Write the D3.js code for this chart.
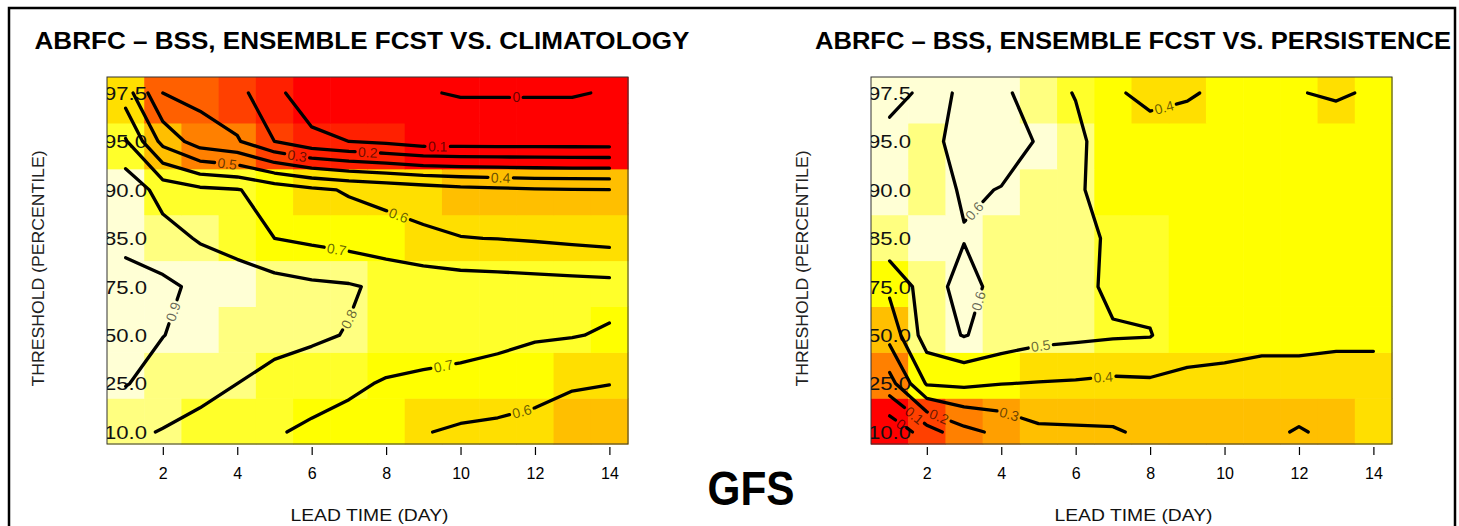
<!DOCTYPE html>
<html>
<head>
<meta charset="utf-8">
<script src="https://cdn.jsdelivr.net/npm/d3@7"></script>
<style>
  body { margin: 0; background: #fff; }
  svg { display: block; }
</style>
</head>
<body>
<svg id="chart" width="1459" height="526"></svg>
<script>
// lead days and threshold categories (bottom -> top)
const days = [1, 2, 3, 4, 5, 6, 7, 8, 9, 10, 11, 12, 13, 14];
const thresholds = ["10.0", "25.0", "50.0", "75.0", "85.0", "90.0", "95.0", "97.5"];
const xTicks = [2, 4, 6, 8, 10, 12, 14];

// R heat.colors(12)
const heatColors = ["#FF0000", "#FF2000", "#FF4000", "#FF6000", "#FF8000", "#FF9F00",
                    "#FFBF00", "#FFDF00", "#FFFF00", "#FFFF2A", "#FFFF80", "#FFFFD5"];

// BSS vs climatology, one row per threshold (10.0 first), one value per lead day
const climatology = [
  [0.82, 0.795, 0.77, 0.75, 0.71, 0.68, 0.66, 0.635, 0.605, 0.585, 0.575, 0.56, 0.545, 0.53],
  [0.905, 0.86, 0.83, 0.80, 0.77, 0.75, 0.72, 0.69, 0.68, 0.67, 0.66, 0.64, 0.61, 0.602],
  [0.94, 0.902, 0.87, 0.85, 0.83, 0.815, 0.795, 0.77, 0.75, 0.74, 0.725, 0.71, 0.705, 0.69],
  [0.93, 0.92, 0.88, 0.865, 0.84, 0.82, 0.81, 0.78, 0.76, 0.75, 0.745, 0.74, 0.735, 0.73],
  [0.88, 0.84, 0.79, 0.75, 0.70, 0.68, 0.66, 0.64, 0.62, 0.603, 0.598, 0.59, 0.58, 0.57],
  [0.87, 0.76, 0.72, 0.705, 0.66, 0.62, 0.59, 0.57, 0.55, 0.53, 0.52, 0.51, 0.505, 0.502],
  [0.71, 0.47, 0.35, 0.31, 0.20, 0.13, 0.10, 0.08, 0.05, 0.05, 0.05, 0.05, 0.05, 0.05],
  [0.55, 0.30, 0.27, 0.23, 0.13, 0.03, 0.02, 0.01, 0.005, -0.005, -0.005, -0.005, -0.005, 0.005]
];

// BSS vs persistence
const persistence = [
  [-0.08, 0.05, 0.17, 0.225, 0.28, 0.285, 0.29, 0.32, 0.33, 0.335, 0.33, 0.29, 0.33, 0.34],
  [0.16, 0.41, 0.42, 0.402, 0.395, 0.39, 0.38, 0.385, 0.385, 0.385, 0.38, 0.38, 0.38, 0.38],
  [0.335, 0.55, 0.605, 0.56, 0.53, 0.52, 0.51, 0.505, 0.43, 0.42, 0.415, 0.415, 0.41, 0.41],
  [0.42, 0.55, 0.64, 0.56, 0.55, 0.53, 0.48, 0.47, 0.45, 0.45, 0.45, 0.45, 0.45, 0.45],
  [0.57, 0.58, 0.595, 0.57, 0.56, 0.54, 0.48, 0.47, 0.45, 0.45, 0.45, 0.45, 0.45, 0.45],
  [0.58, 0.56, 0.61, 0.5975, 0.56, 0.52, 0.44, 0.45, 0.45, 0.45, 0.45, 0.45, 0.45, 0.45],
  [0.58, 0.57, 0.637, 0.63, 0.595, 0.53, 0.43, 0.45, 0.45, 0.45, 0.45, 0.45, 0.45, 0.45],
  [0.62, 0.587, 0.606, 0.62, 0.553, 0.494, 0.416, 0.37, 0.39, 0.42, 0.45, 0.403, 0.39, 0.41]
];

const panels = [
  { x0: 107, title: "ABRFC \u2013 BSS, ENSEMBLE FCST VS. CLIMATOLOGY", titleW: 655, titleX: 362, grid: climatology },
  { x0: 871, title: "ABRFC \u2013 BSS, ENSEMBLE FCST VS. PERSISTENCE", titleW: 636, titleX: 1133, grid: persistence }
];

const width = 1459, height = 526;
const plotW = 521, plotH = 367, plotY = 77;
const sans = "'Liberation Sans', Arial, Helvetica, sans-serif";
const narrow = "'Liberation Sans Narrow', 'Arial Narrow', 'Liberation Sans', Arial, sans-serif";
const labelSize = 14;

const svg = d3.select("#chart");
svg.append("rect").attr("width", width).attr("height", height).attr("fill", "#fff");
svg.append("rect")
  .attr("x", 9).attr("y", 8).attr("width", 1446).attr("height", 540)
  .attr("fill", "none").attr("stroke", "#000").attr("stroke-width", 2.5);

const x = d3.scaleLinear().domain([0.5, 14.5]).range([0, plotW]);
const yBand = d3.scaleBand().domain(thresholds.slice().reverse()).range([0, plotH]);
// contour grid rows / tick labels sit on this scale (row index)
const yGrid = d3.scaleLinear().domain([0, thresholds.length - 1]).range([355, 16]);
const xIdx = d3.scaleLinear().domain([0, days.length - 1]).range([x(days[0]), x(days[days.length - 1])]);

// marching squares -> polylines in grid index coords
function isoLines(grid, level) {
  const ny = grid.length, nx = grid[0].length;
  const pts = new Map();
  const segs = [];
  const hEdge = (i, j) => {
    const a = grid[j][i], b = grid[j][i + 1], k = "h" + i + "," + j;
    pts.set(k, [i + (level - a) / (b - a), j]);
    return k;
  };
  const vEdge = (i, j) => {
    const a = grid[j][i], b = grid[j + 1][i], k = "v" + i + "," + j;
    pts.set(k, [i, j + (level - a) / (b - a)]);
    return k;
  };
  for (let j = 0; j < ny - 1; j++) {
    for (let i = 0; i < nx - 1; i++) {
      const a = grid[j][i] >= level, b = grid[j][i + 1] >= level;
      const c = grid[j + 1][i + 1] >= level, d = grid[j + 1][i] >= level;
      const e = [];
      if (a !== b) e.push(hEdge(i, j));       // bottom
      if (b !== c) e.push(vEdge(i + 1, j));   // right
      if (d !== c) e.push(hEdge(i, j + 1));   // top
      if (a !== d) e.push(vEdge(i, j));       // left
      if (e.length === 2) segs.push(e);
      else if (e.length === 4) {
        const centre = (grid[j][i] + grid[j][i + 1] + grid[j + 1][i + 1] + grid[j + 1][i]) / 4 >= level;
        if (centre === a) { segs.push([e[0], e[1]]); segs.push([e[2], e[3]]); }
        else { segs.push([e[0], e[3]]); segs.push([e[1], e[2]]); }
      }
    }
  }
  const adj = new Map();
  segs.forEach((s, n) => s.forEach(k => {
    if (!adj.has(k)) adj.set(k, []);
    adj.get(k).push(n);
  }));
  const used = segs.map(() => false);
  const walk = start => {
    const keys = [start];
    let cur = start;
    while (true) {
      const n = adj.get(cur).find(m => !used[m]);
      if (n === undefined) break;
      used[n] = true;
      cur = segs[n][0] === cur ? segs[n][1] : segs[n][0];
      keys.push(cur);
    }
    return keys;
  };
  const lines = [];
  for (const [k, list] of adj) if (list.length === 1 && !used[list[0]]) lines.push(walk(k));
  segs.forEach((s, n) => { if (!used[n]) lines.push(walk(s[0])); });
  return lines.map(ks => ks.map(k => pts.get(k)));
}

function measure(str) {
  const t = svg.append("text").attr("font-family", sans).attr("font-size", labelSize).text(str);
  const w = t.node().getComputedTextLength();
  t.remove();
  return w;
}

function arc(pts) {
  const cum = [0];
  for (let i = 1; i < pts.length; i++)
    cum.push(cum[i - 1] + Math.hypot(pts[i][0] - pts[i - 1][0], pts[i][1] - pts[i - 1][1]));
  const L = cum[cum.length - 1];
  const at = s => {
    s = Math.max(0, Math.min(L, s));
    let i = d3.bisectRight(cum, s) - 1;
    if (i >= pts.length - 1) i = pts.length - 2;
    if (i < 0) i = 0;
    const t = (s - cum[i]) / ((cum[i + 1] - cum[i]) || 1);
    return [pts[i][0] + t * (pts[i + 1][0] - pts[i][0]), pts[i][1] + t * (pts[i + 1][1] - pts[i][1])];
  };
  const slice = (a, b) => {
    const out = [at(a)];
    for (let i = 0; i < pts.length; i++) if (cum[i] > a && cum[i] < b) out.push(pts[i]);
    out.push(at(b));
    return out;
  };
  return { L, at, slice };
}

// choose label spots: flat stretch, clear of other lines and of earlier labels
function placeLabels(lines) {
  const samples = lines.map(ln => {
    const a = arc(ln.px), out = [];
    for (let s = 0; s <= a.L; s += 2) out.push(a.at(s));
    return out;
  });
  const placed = [];
  lines.forEach((ln, li) => {
    const a = arc(ln.px);
    const half = ln.w / 2 + 3;
    ln.pieces = [ln.px];
    if (a.L < ln.w * 3.2) return;
    let best = null, bestScore = -Infinity;
    for (let s = half + 2; s <= a.L - half - 2; s += 1) {
      const p0 = a.at(s - half - 2), p1 = a.at(s + half + 2);
      const flat = Math.hypot(p1[0] - p0[0], p1[1] - p0[1]) / (2 * half + 4);
      const c = a.at(s);
      const ang = Math.atan2(p1[1] - p0[1], p1[0] - p0[0]);
      const cs = Math.cos(ang), sn = Math.sin(ang);
      let hits = 0;
      samples.forEach((smp, k) => {
        if (k === li) return;
        smp.forEach(q => {
          const dx = q[0] - c[0], dy = q[1] - c[1];
          const u = dx * cs + dy * sn, v = -dx * sn + dy * cs;
          if (Math.abs(u) < half && Math.abs(v) < 6) hits++;
        });
      });
      let near = 0;
      placed.forEach(pl => { if (Math.hypot(pl[0] - c[0], pl[1] - c[1]) < 70) near++; });
      const score = Math.round(flat * 100) / 100 - hits * 0.5 - near * 0.3 - 0.05 * Math.abs(s / a.L - 0.5);
      if (score > bestScore) { bestScore = score; best = { s, p0, p1, c }; }
    }
    if (!best) return;
    let angle = Math.atan2(best.p1[1] - best.p0[1], best.p1[0] - best.p0[0]) * 180 / Math.PI;
    if (angle > 90) angle -= 180;
    if (angle < -90) angle += 180;
    ln.pieces = [a.slice(0, best.s - half), a.slice(best.s + half, a.L)];
    ln.centre = best.c;
    ln.angle = angle;
    placed.push(best.c);
  });
}

const line = d3.line();

panels.forEach((p, pi) => {
  const g = svg.append("g").attr("transform", `translate(${p.x0},${plotY})`);
  const clipId = "plotclip" + pi;
  g.append("clipPath").attr("id", clipId)
    .append("rect").attr("width", plotW).attr("height", plotH);

  const values = p.grid.flat();
  const color = d3.scaleQuantize().domain(d3.extent(values)).range(heatColors);

  const cells = p.grid.flatMap((row, j) => row.map((v, i) => ({ v, day: days[i], thr: thresholds[j] })));
  g.append("g").selectAll("rect").data(cells).join("rect")
    .attr("x", d => x(d.day - 0.5))
    .attr("y", d => yBand(d.thr))
    .attr("width", d => x(d.day + 0.5) - x(d.day - 0.5) + 0.6)
    .attr("height", yBand.bandwidth() + 0.6)
    .attr("fill", d => color(d.v));

  // threshold labels, drawn inside the plot and clipped at its left edge
  g.append("g").attr("clip-path", `url(#${clipId})`)
    .selectAll("text").data(thresholds).join("text")
    .attr("x", -3)
    .attr("y", (d, j) => yGrid(j))
    .attr("dy", "0.36em")
    .attr("font-family", sans).attr("font-size", 19).attr("fill", "#111")
    .attr("textLength", 43).attr("lengthAdjust", "spacingAndGlyphs")
    .text(d => d);

  // contours
  const levels = d3.ticks(d3.min(values), d3.max(values), 10);
  const lines = [];
  levels.forEach(level => {
    const label = String(+level.toFixed(2));
    const w = measure(label);
    isoLines(p.grid, level).forEach(poly => {
      lines.push({ label, w, px: poly.map(([i, j]) => [xIdx(i), yGrid(j)]) });
    });
  });
  placeLabels(lines);

  const cg = g.append("g");
  lines.forEach(ln => {
    ln.pieces.forEach(piece => {
      if (piece.length < 2) return;
      cg.append("path").attr("d", line(piece))
        .attr("fill", "none").attr("stroke", "#000").attr("stroke-width", 3.3)
        .attr("stroke-linejoin", "round").attr("stroke-linecap", "round");
    });
    if (ln.centre) {
      cg.append("text")
        .attr("transform", `translate(${ln.centre[0]},${ln.centre[1]}) rotate(${ln.angle})`)
        .attr("text-anchor", "middle").attr("dy", "0.36em")
        .attr("font-family", sans).attr("font-size", labelSize)
        .attr("fill", "#000").attr("fill-opacity", 0.6)
        .text(ln.label);
    }
  });

  g.append("rect").attr("width", plotW).attr("height", plotH)
    .attr("fill", "none").attr("stroke", "#333").attr("stroke-width", 1);

  // lead time axis
  g.append("g").attr("transform", `translate(0,${plotH + 3})`)
    .call(d3.axisBottom(x).tickValues(xTicks).tickSize(8).tickPadding(13).tickFormat(d3.format("d")))
    .call(a => a.select(".domain").remove())
    .call(a => a.selectAll("line").attr("stroke", "#000").attr("stroke-width", 1.2))
    .call(a => a.selectAll("text").attr("font-family", narrow).attr("font-size", 16).attr("fill", "#000"));

  g.append("text")
    .attr("x", plotW / 2 + 2).attr("y", 444)
    .attr("text-anchor", "middle")
    .attr("font-family", narrow).attr("font-size", 17).attr("fill", "#111")
    .attr("textLength", 158).attr("lengthAdjust", "spacingAndGlyphs")
    .text("LEAD TIME (DAY)");

  g.append("text")
    .attr("transform", `translate(-63,${plotH / 2 + 8}) rotate(-90)`)
    .attr("text-anchor", "middle")
    .attr("font-family", sans).attr("font-size", 16).attr("fill", "#222")
    .attr("textLength", 236).attr("lengthAdjust", "spacingAndGlyphs")
    .text("THRESHOLD (PERCENTILE)");

  svg.append("text")
    .attr("x", p.titleX).attr("y", 49)
    .attr("text-anchor", "middle")
    .attr("font-family", sans).attr("font-weight", "bold").attr("font-size", 23).attr("fill", "#000")
    .attr("textLength", p.titleW).attr("lengthAdjust", "spacingAndGlyphs")
    .text(p.title);
});

svg.append("text")
  .attr("x", 751).attr("y", 505)
  .attr("text-anchor", "middle")
  .attr("font-family", sans).attr("font-weight", "bold").attr("font-size", 48).attr("fill", "#000")
  .attr("textLength", 87).attr("lengthAdjust", "spacingAndGlyphs")
  .text("GFS");
</script>
</body>
</html>
